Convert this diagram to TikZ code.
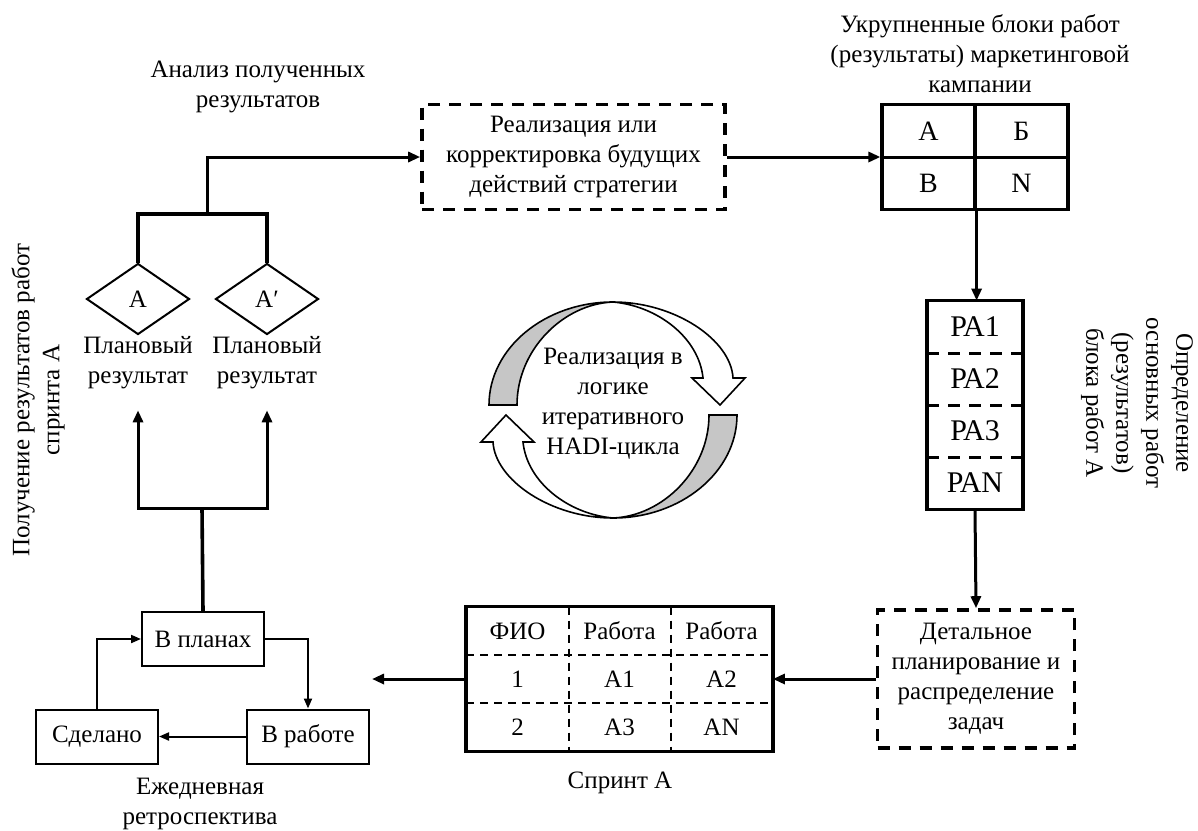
\documentclass[tikz,border=0pt]{standalone}
\usepackage{fontspec}
\setmainfont{Liberation Serif}
\usetikzlibrary{arrows.meta, positioning, shapes.geometric}

\begin{document}
\begin{tikzpicture}[x=0.5pt, y=-0.5pt, font=\fontsize{12.5}{15}\selectfont,
  thk/.style={line width=1.8pt},
  arr/.style={line width=1.5pt, -{Triangle[length=6pt,width=5pt]}},
  tarr/.style={line width=1pt, -{Triangle[length=5pt,width=4pt]}},
  sbox/.style={draw, line width=1pt, minimum width=61pt, minimum height=27pt},
  dbox/.style={draw, line width=1.8pt, dash pattern=on 6pt off 4.5pt, align=center},
  dmd/.style={diamond, draw, line width=1pt, minimum width=51.5pt, minimum height=35.5pt, inner sep=0pt},
  blk/.style={draw, line width=1.6pt, minimum width=46.5pt, minimum height=26.25pt, inner sep=0pt, font=\fontsize{14}{16}\selectfont},
  pa/.style={minimum width=47.5pt, minimum height=26pt, inner sep=0pt, font=\fontsize{15}{17}\selectfont},
  cell/.style={minimum width=51pt, minimum height=24pt, inner sep=0pt},
  tdash/.style={line width=1pt, dash pattern=on 4pt off 3pt},
  cyc/.style={draw, line width=0.8pt}]
  \useasboundingbox (0,0) rectangle (1198,830);

  \node[align=center] (capAn) at (258,87) {Анализ полученных\\результатов};
  \node[dbox, minimum width=151.5pt, minimum height=52.5pt] (real) at (573.5,157) {Реализация или\\корректировка будущих\\действий стратегии};
  \node[align=center] (capBl) at (980,54) {Укрупненные блоки работ\\(результаты) маркетинговой\\кампании};

  \node[blk] (cA) at (928.5,131) {А};
  \node[blk] (cB) at (1021.5,131) {Б};
  \node[blk] (cV) at (928.5,183.5) {В};
  \node[blk] (cN) at (1021.5,183.5) {N};

  \foreach \i/\t/\y in {1/РА1/327, 2/РА2/379, 3/РА3/431, 4/РАN/483}
    \node[pa] (pa\i) at (975,\y) {\t};
  \draw[thk] (pa1.north west) rectangle (pa4.south east);
  \foreach \i in {1,2,3}
    \draw[thk, dash pattern=on 6pt off 4.5pt] (pa\i.south west) -- (pa\i.south east);
  \node[align=center, rotate=-90] (capPA) at (1137,403) {Определение\\основных работ\\(результатов)\\блока работ А};

  \node[dbox, minimum width=98.5pt, minimum height=69pt] (det) at (976,679) {Детальное\\планирование и\\распределение\\задач};

  \foreach \r/\y/\a/\b/\c in {1/631/ФИО/Работа/Работа, 2/679/1/А1/А2, 3/727/2/А3/AN} {
    \node[cell] (t\r1) at (517.5,\y) {\a};
    \node[cell] (t\r2) at (619.5,\y) {\b};
    \node[cell] (t\r3) at (721.5,\y) {\c};
  }
  \draw[thk] (t11.north west) rectangle (t33.south east);
  \draw[tdash] (t11.south west) -- (t13.south east);
  \draw[tdash] (t21.south west) -- (t23.south east);
  \draw[tdash] (t11.north east) -- (t31.south east);
  \draw[tdash] (t12.north east) -- (t32.south east);
  \node (capSp) at (620,783) {Спринт А};

  \node[sbox] (plan) at (203,639) {В планах};
  \node[sbox] (done) at (97,736.5) {Сделано};
  \node[sbox] (work) at (308,736.5) {В работе};
  \node[align=center] (capRe) at (200,804) {Ежедневная\\ретроспектива};

  \node[dmd] (dA) at (138,299) {А};
  \node[dmd] (dA2) at (267,299) {А′};
  \node[align=center] (pA) at (138,363) {Плановый\\результат};
  \node[align=center] (pA2) at (267,363) {Плановый\\результат};
  \node[align=center, rotate=90] (capPo) at (38,400) {Получение результатов работ\\спринта А};

  \coordinate (jt) at (207,214);
  \coordinate (jb) at (202,508);
  \coordinate (retro) at (372,679);

  \draw[thk] (dA.north) |- (jt) -| (dA2.north);
  \draw[arr] (jt) |- (real.west);
  \draw[arr] (real.east) -- (real.east -| cA.west);
  \draw[arr] (cV.south east) -- (cV.south east |- pa1.north);
  \draw[arr] (pa4.south) -- (det.north);
  \draw[arr] (det.west) -- (t23.east);
  \draw[arr] (t21.west) -- (retro);
  \draw[thk] (jb) -- (plan.north);
  \draw[arr, shorten >=7pt] (jb) -| (pA.south);
  \draw[arr, shorten >=7pt] (jb) -| (pA2.south);
  \draw[tarr] (plan.east) -| (work.north);
  \draw[tarr] (work.west) -- (done.east);
  \draw[tarr] (done.north) |- (plan.west);

  \foreach \a in {0,180} {
    \begin{scope}[shift={(613,410)}, rotate=\a]
      \path[cyc, fill=gray!45] (-124,-5) .. controls (-124,-62) and (-68,-108) .. (0,-108)
        .. controls (-50,-106) and (-96,-60) .. (-96,-5) -- cycle;
      \path[cyc, fill=white] (0,-108) .. controls (62,-108) and (118,-70) .. (120,-32)
        -- (132,-32) -- (107,-5) -- (79,-32) -- (90,-32)
        .. controls (86,-72) and (45,-104) .. (0,-108) -- cycle;
    \end{scope}
  }
  \node[align=center] (hadi) at (613,404) {Реализация в\\логике\\итеративного\\HADI-цикла};
\end{tikzpicture}
\end{document}
